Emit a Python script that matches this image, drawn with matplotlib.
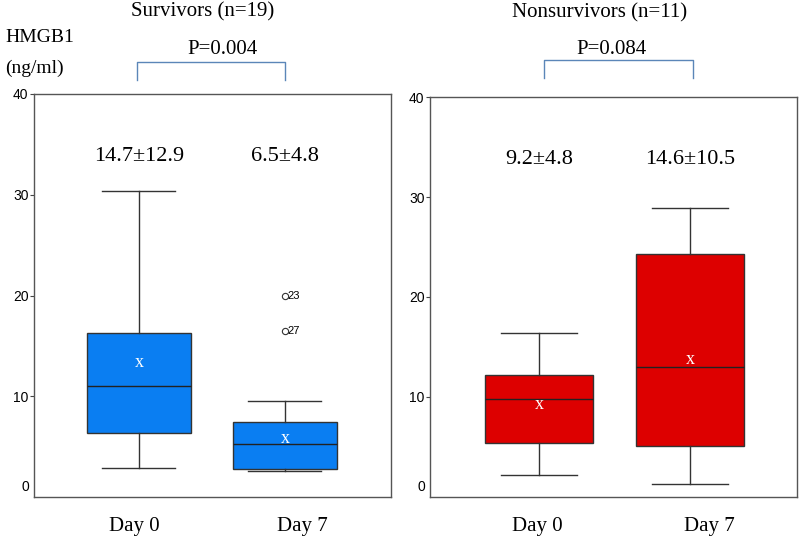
import matplotlib
matplotlib.use("Agg")
import matplotlib.pyplot as plt
from matplotlib.transforms import blended_transform_factory

plt.rcParams['font.family'] = ['Liberation Serif', 'DejaVu Serif']

# ---- data ----
days = ["Day 0", "Day 7"]
surv_whislo = [2.9, 2.6]
surv_q1 = [6.4, 2.8]
surv_med = [11.0, 5.3]
surv_q3 = [16.3, 7.5]
surv_whishi = [30.4, 9.6]
surv_mean = [13.4, 5.8]
surv_fliers = [[], [20.0, 16.5]]
surv_flier_ids = [[], ["23", "27"]]
surv_labels = ["14.7\u00b112.9", "6.5\u00b14.8"]

non_whislo = [2.2, 1.3]
non_q1 = [5.4, 5.1]
non_med = [9.8, 13.0]
non_q3 = [12.2, 24.3]
non_whishi = [16.4, 28.9]
non_mean = [9.2, 13.7]
non_fliers = [[], []]
non_flier_ids = [[], []]
non_labels = ["9.2\u00b14.8", "14.6\u00b110.5"]

titles = ["Survivors (n=19)", "Nonsurvivors (n=11)"]
pvalues = ["P=0.004", "P=0.084"]
yticks = [10, 20, 30, 40]

fig = plt.figure(figsize=(8, 5.4), dpi=100)
ax1 = fig.add_axes([0.0425, 0.079, 0.446, 0.747])
ax2 = fig.add_axes([0.5375, 0.080, 0.459, 0.740])

panels = [
    dict(ax=ax1, wlo=surv_whislo, q1=surv_q1, med=surv_med, q3=surv_q3, whi=surv_whishi,
         mean=surv_mean, fl=surv_fliers, fids=surv_flier_ids, labs=surv_labels,
         col="#0a7ef2", xlim=(0.281, 2.726), dayx=(0.97, 2.12),
         br=(0.986, 2.0), px=1.57, ytop=62, ybot=80, ytxt=50,
         title=titles[0], tx=203, ty=12, p=pvalues[0]),
    dict(ax=ax2, wlo=non_whislo, q1=non_q1, med=non_med, q3=non_q3, whi=non_whishi,
         mean=non_mean, fl=non_fliers, fids=non_flier_ids, labs=non_labels,
         col="#dd0000", xlim=(0.278, 2.709), dayx=(0.99, 2.13),
         br=(1.03, 2.02), px=1.48, ytop=60, ybot=78, ytxt=49,
         title=titles[1], tx=600, ty=13, p=pvalues[1]),
]

pos = [1, 2]
bcol = "#5b86b8"
for P in panels:
    ax = P["ax"]
    stats = []
    for j in range(2):
        stats.append(dict(whislo=P["wlo"][j], q1=P["q1"][j], med=P["med"][j], q3=P["q3"][j],
                          whishi=P["whi"][j], fliers=P["fl"][j], mean=P["mean"][j]))
    ax.bxp(stats, positions=pos, widths=0.71, patch_artist=True,
           showfliers=True, showmeans=False,
           boxprops=dict(facecolor=P["col"], edgecolor="#333333", linewidth=1.0),
           medianprops=dict(color="#222222", linewidth=1.0),
           whiskerprops=dict(color="#333333", linewidth=1.0),
           capprops=dict(color="#333333", linewidth=1.0),
           capwidths=0.5,
           flierprops=dict(marker="o", markersize=4.5, markerfacecolor="none",
                           markeredgecolor="#333333", markeredgewidth=0.8))
    for j in range(2):
        ax.text(pos[j], P["mean"][j], "x", color="white", fontsize=13,
                ha="center", va="center")
        ax.text(pos[j], 33.8, P["labs"][j], fontsize=16, ha="center", va="center")
        for v, idt in zip(P["fl"][j], P["fids"][j]):
            ax.text(pos[j] + 0.02, v, idt, fontsize=8, ha="left", va="center",
                    family=["Liberation Sans", "DejaVu Sans"])
    ax.set_xlim(*P["xlim"])
    ax.set_ylim(0, 40)
    ax.set_xticks([])
    ax.set_yticks(yticks)
    ax.set_yticklabels([str(t) for t in yticks], fontsize=10,
                       family=["Liberation Sans", "DejaVu Sans"])
    ax.tick_params(axis="y", length=3, width=0.8, pad=1, color="#444444")
    ax.text(-0.012, 0.025, "0", transform=ax.transAxes, fontsize=10,
            ha="right", va="center", family=["Liberation Sans", "DejaVu Sans"])
    for s in ax.spines.values():
        s.set_color("#555555")
        s.set_linewidth(1.0)
    tr = blended_transform_factory(ax.transData, fig.transFigure)
    for j in range(2):
        ax.text(P["dayx"][j], 1 - 527 / 540, days[j], transform=tr, fontsize=15,
                ha="center", va="center")
    x0, x1 = P["br"]
    yb, yt = 1 - P["ybot"] / 540, 1 - P["ytop"] / 540
    ax.plot([x0, x0, x1, x1], [yb, yt, yt, yb], transform=tr, color=bcol,
            linewidth=1.0, clip_on=False)
    ax.text(P["px"], 1 - P["ytxt"] / 540, P["p"], transform=tr, fontsize=15,
            ha="center", va="center")
    fig.text(P["tx"] / 800, 1 - P["ty"] / 540, P["title"], fontsize=15,
             ha="center", va="center")

fig.text(5 / 800, 1 - 37 / 540, "HMGB1", fontsize=14, ha="left", va="center")
fig.text(5 / 800, 1 - 68 / 540, "(ng/ml)", fontsize=14, ha="left", va="center")

fig.savefig("out.png", dpi=100)
